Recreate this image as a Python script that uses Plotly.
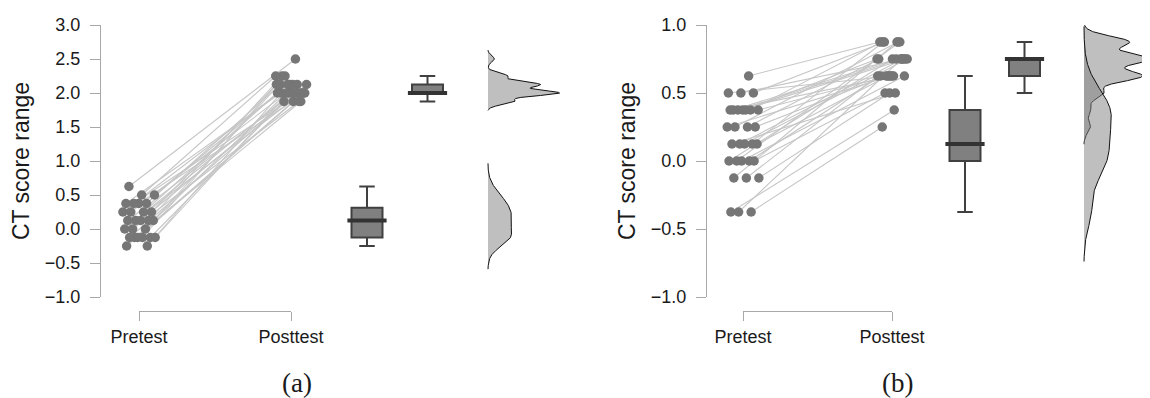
import numpy as np
import plotly.graph_objects as go

# ---------------- data ----------------
categories = ["Pretest", "Posttest"]
y_title = "CT score range"
captions = ["(a)", "(b)"]
y_ticks_a = [-1.0, -0.5, 0.0, 0.5, 1.0, 1.5, 2.0, 2.5, 3.0]
y_ticks_b = [-1.0, -0.5, 0.0, 0.5, 1.0]

# panel (a): paired CT scores (one entry per participant)
pre_a = [-0.25, -0.25,
         -0.125, -0.125, -0.125, -0.125, -0.125, -0.125,
         0.0, 0.0, 0.0,
         0.125, 0.125, 0.125, 0.125, 0.125,
         0.25, 0.25, 0.25, 0.25,
         0.375, 0.375, 0.375, 0.375,
         0.5, 0.5,
         0.625]
post_a = [1.875, 2.0,
          1.875, 2.0, 2.125, 2.0, 1.875, 2.0,
          2.0, 2.125, 1.875,
          2.0, 2.125, 2.0, 2.25, 2.0,
          2.125, 2.0, 2.125, 2.25,
          2.0, 2.125, 2.125, 2.0,
          2.125, 2.25,
          2.5]

# panel (b)
pre_b = [-0.375, -0.375, -0.375,
         -0.125, -0.125, -0.125,
         0.0, 0.0, 0.0, 0.0, 0.0,
         0.125, 0.125, 0.125, 0.125, 0.125,
         0.25, 0.25, 0.25, 0.25,
         0.375, 0.375, 0.375, 0.375, 0.375, 0.375, 0.375,
         0.5, 0.5, 0.5,
         0.625]
post_b = [0.375, 0.25, 0.75,
          0.5, 0.625, 0.875,
          0.5, 0.625, 0.75, 0.625, 0.875,
          0.625, 0.75, 0.5, 0.875, 0.75,
          0.625, 0.75, 0.875, 0.625,
          0.75, 0.625, 0.875, 0.75, 0.625, 0.75, 0.75,
          0.875, 0.75, 0.625,
          0.875]

# ---------------- helpers ----------------
PAGE_W, PAGE_H = 1150, 398
OFF = 8                       # default page (body) margin around the plot div
W, H = PAGE_W - OFF, PAGE_H - OFF
FONT = "Liberation Sans"
TXT = "#1a1a1a"
AX = "#a8a8a8"
DOT = "#767676"
LINE = "#c6c6c6"
BOXFILL = "#808080"
BOXEDGE = "#404040"
DENSFILL = "rgba(128,128,128,0.5)"


def fx(px):
    return (px - OFF) / W


def fy(py):
    return 1 - (py - OFF) / H


def box_stats(v):
    v = np.sort(np.asarray(v, float))
    q1, med, q3 = np.percentile(v, [25, 50, 75])
    iqr = q3 - q1
    lo = v[v >= q1 - 1.5 * iqr].min()
    hi = v[v <= q3 + 1.5 * iqr].max()
    return q1, med, q3, lo, hi


def kde(v):
    v = np.asarray(v, float)
    n = len(v)
    sd = v.std(ddof=1)
    q1, q3 = np.percentile(v, [25, 75])
    bw = 0.9 * min(sd, (q3 - q1) / 1.34) * n ** -0.2
    grid = np.linspace(v.min() - 3 * bw, v.max() + 3 * bw, 512)
    d = np.exp(-0.5 * ((grid[:, None] - v[None, :]) / bw) ** 2).sum(1) / (n * bw * np.sqrt(2 * np.pi))
    return grid, d


PHI = (np.sqrt(5) - 1) / 2


def jitter(n, seed, amp=0.11):
    return amp * (2 * ((np.arange(n) * PHI + seed) % 1) - 1)


panels = [
    dict(pre=pre_a, post=post_a, yticks=y_ticks_a, yr=[-1, 3],
         ax=101, p0=139, p1=291, dots_end=330, st0=335, b0=367, step=60.5, st1=578,
         dens_px=18.8, xa="x", xb="x2", xs="x3", ya="y", cap_x=297),
    dict(pre=pre_b, post=post_b, yticks=y_ticks_b, yr=[-1, 1],
         ax=707, p0=743, p1=892, dots_end=935, st0=935, b0=965, step=59.5, st1=1150,
         dens_px=21.0, xa="x4", xb="x5", xs="x6", ya="y2", cap_x=897),
]

fig = go.Figure()
layout = dict(width=W, height=H, margin=dict(l=0, r=0, t=0, b=0, pad=0, autoexpand=False),
              paper_bgcolor="white", plot_bgcolor="rgba(0,0,0,0)",
              showlegend=False, font=dict(family=FONT, color=TXT))
annotations = []


def axname(ref):
    return ref.replace("x", "xaxis").replace("y", "yaxis")


for k, P in enumerate(panels):
    pre = np.asarray(P["pre"], float)
    post = np.asarray(P["post"], float)
    n = len(pre)
    jx_pre = 0 + jitter(n, 0.13)
    jx_post = 1 + jitter(n, 0.57, 0.105)

    # connecting lines
    lx, ly = [], []
    for i in range(n):
        lx += [jx_pre[i], jx_post[i], None]
        ly += [pre[i], post[i], None]
    fig.add_trace(go.Scatter(x=lx, y=ly, mode="lines", line=dict(color=LINE, width=1.1),
                             xaxis=P["xa"], yaxis=P["ya"], hoverinfo="skip"))
    for xs_, ys_ in ((jx_pre, pre), (jx_post, post)):
        fig.add_trace(go.Scatter(x=xs_, y=ys_, mode="markers",
                                 marker=dict(size=9.5, color=DOT, line=dict(width=0)),
                                 xaxis=P["xa"], yaxis=P["ya"], cliponaxis=False))

    # boxes
    box_w_px = 31
    box_w = box_w_px / P["step"]
    for j, vals in enumerate((pre, post)):
        q1, med, q3, lo, hi = box_stats(vals)
        fig.add_trace(go.Box(x=[j], q1=[q1], median=[med], q3=[q3], lowerfence=[lo], upperfence=[hi],
                             width=box_w, whiskerwidth=0.5, fillcolor=BOXFILL,
                             line=dict(color=BOXEDGE, width=2), boxpoints=False,
                             xaxis=P["xs"], yaxis=P["ya"], hoverinfo="skip"))
        fig.add_trace(go.Scatter(x=[j], y=[med], mode="markers",
                                 marker=dict(symbol="line-ew", size=box_w_px - 3,
                                             line=dict(width=4, color="#333333")),
                                 xaxis=P["xs"], yaxis=P["ya"], hoverinfo="skip"))

    # densities (half violins) at the third slot
    base = 2
    scale = P["dens_px"] / P["step"]
    for vals in (post, pre):
        g, d = kde(vals)
        xs_ = np.r_[base, base + d * scale, base]
        ys_ = np.r_[g[0], g, g[-1]]
        fig.add_trace(go.Scatter(x=xs_, y=ys_, mode="lines", fill="toself", fillcolor=DENSFILL,
                                 line=dict(color="#111111", width=1),
                                 xaxis=P["xs"], yaxis=P["ya"], hoverinfo="skip"))

    # dummy for bracket axis
    fig.add_trace(go.Scatter(x=[], y=[], xaxis=P["xb"], yaxis=P["ya"]))

    unit = P["p1"] - P["p0"]
    layout[axname(P["xa"])] = dict(domain=[fx(P["ax"]), fx(P["dots_end"])],
                                   range=[(P["ax"] - P["p0"]) / unit, (P["dots_end"] - P["p0"]) / unit],
                                   visible=False, anchor=P["ya"], automargin=False)
    layout[axname(P["xs"])] = dict(domain=[fx(P["st0"]), min(1.0, fx(P["st1"]))],
                                   range=[(P["st0"] - P["b0"]) / P["step"],
                                          (min(P["st1"], PAGE_W) - P["b0"]) / P["step"]],
                                   visible=False, anchor=P["ya"], automargin=False)
    layout[axname(P["xb"])] = dict(domain=[fx(P["p0"]), fx(P["p1"])], range=[0, 1],
                                   anchor="free", position=fy(311), automargin=False,
                                   tickvals=[0, 1], ticktext=categories, ticks="outside",
                                   ticklen=9, tickcolor=AX, tickwidth=1,
                                   showline=True, linecolor=AX, linewidth=1,
                                   showgrid=False, zeroline=False,
                                   tickfont=dict(size=18, color=TXT, family=FONT),
                                   ticklabelstandoff=0)
    layout[axname(P["ya"])] = dict(domain=[fy(297), fy(25)], range=P["yr"], anchor=P["xa"],
                                   automargin=False,
                                   tickvals=P["yticks"], tickformat=".1f", ticks="outside",
                                   ticklen=10, tickcolor=AX, tickwidth=1,
                                   showline=True, linecolor=AX, linewidth=1,
                                   showgrid=False, zeroline=False,
                                   tickfont=dict(size=18, color=TXT, family=FONT),
                                   ticklabelstandoff=6,
                                   title=dict(text=y_title, font=dict(size=23, color=TXT, family=FONT),
                                              standoff=8))
    annotations.append(dict(text=captions[k], x=fx(P["cap_x"]), y=fy(383), xref="paper", yref="paper",
                            showarrow=False, xanchor="center", yanchor="middle",
                            font=dict(family="Liberation Serif", size=27, color=TXT)))

layout["annotations"] = annotations
fig.update_layout(**layout)
fig.write_html("out.html")
